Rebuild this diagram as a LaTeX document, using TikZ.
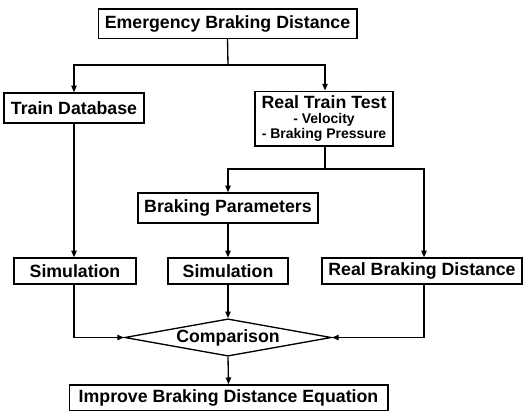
\documentclass[tikz,border=0pt]{standalone}
\usepackage{fontspec}
\setmainfont{Liberation Sans}
\usetikzlibrary{shapes.geometric,arrows.meta}

\tikzset{every picture/.style={line width=1pt}}
\tikzset{
  flowbox/.style={draw,inner sep=0.75pt,align=center,font=\fontsize{13.3}{14}\selectfont\bfseries},
  decision/.style={draw,diamond,aspect=5.5,inner sep=0pt,font=\fontsize{13.3}{14}\selectfont\bfseries},
  flowarrow/.style={-{Triangle[length=5pt,width=4pt]}}
}

\begin{document}
\begin{tikzpicture}[x=0.75pt,y=0.75pt,yscale=-1,xscale=1]
\useasboundingbox (0,0) rectangle (527,411);

% Text Node
\node (ebd) [flowbox,minimum width=194pt,minimum height=22pt] at (227.5,23.5) {Emergency Braking Distance};
% Text Node
\node (tdb) [flowbox,minimum width=105pt,minimum height=22.5pt] at (74,108) {Train Database};
% Text Node
\node (rtt) [flowbox,minimum width=103.5pt,minimum height=41pt] at (324,118.5) {Real Train Test\\[-2.5pt]{\fontsize{10.5}{10}\selectfont - Velocity}\\[-2.5pt]{\fontsize{10.5}{10}\selectfont - Braking Pressure}};
% Text Node
\node (bp) [flowbox,minimum width=135pt,minimum height=22.5pt] at (228,208) {Braking Parameters};
% Text Node
\node (sima) [flowbox,minimum width=91.5pt,minimum height=19.5pt] at (75,271) {Simulation};
% Text Node
\node (simb) [flowbox,minimum width=90pt,minimum height=19.5pt] at (228,271) {Simulation};
% Text Node
\node (rbd) [flowbox,minimum width=150pt,minimum height=19.5pt] at (422,271) {Real Braking Distance};
% Text Node
\node (cmp) [decision,minimum width=155pt,minimum height=28pt] at (228,337.5) {Comparison};
% Text Node
\node (ibd) [flowbox,minimum width=239pt,minimum height=19pt] at (228.5,397.5) {Improve Braking Distance Equation};

\coordinate (spa) at (228,65);
\coordinate (spb) at (325,169);

%Straight Lines
\draw    (ebd.south) -- (spa) ;
\draw [flowarrow]   (spa) -| (tdb.north) ;
\draw [flowarrow]   (spa) -| (rtt.north -| spb) ;
%Straight Lines
\draw [flowarrow]   (tdb.south) -- (tdb.south |- sima.north) ;
%Straight Lines
\draw    (rtt.south -| spb) -- (spb) ;
\draw [flowarrow]   (spb) -| (bp.north) ;
\draw [flowarrow]   (spb) -| ([xshift=1.5pt]rbd.north) ;
%Straight Lines
\draw [flowarrow]   (bp.south) -- (simb.north) ;
\draw [flowarrow]   (simb.south) -- (cmp.north) ;
%Straight Lines
\draw [flowarrow]   (sima.south -| tdb.south) |- (cmp.west) ;
\draw [flowarrow]   ([xshift=1.5pt]rbd.south) |- (cmp.east) ;
%Straight Lines
\draw [flowarrow]   (cmp.south) -- (ibd.north) ;

\end{tikzpicture}
\end{document}
